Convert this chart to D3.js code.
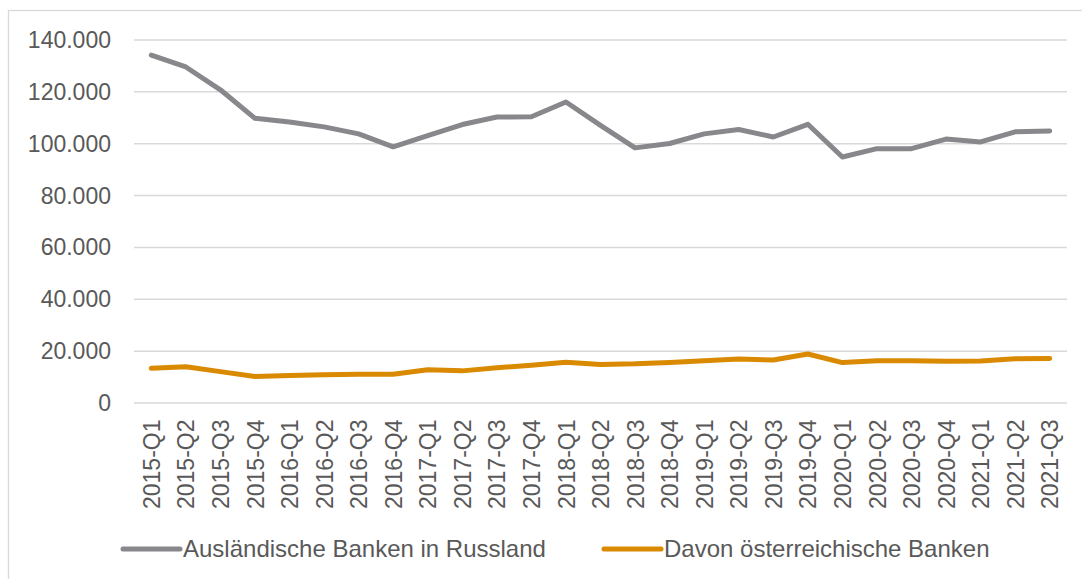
<!DOCTYPE html>
<html>
<head>
<meta charset="utf-8">
<script src="https://cdn.jsdelivr.net/npm/d3@7"></script>
<style>
  body { margin: 0; background: #fff; }
  svg text { font-family: "Liberation Sans", Arial, sans-serif; fill: #595959; }
</style>
</head>
<body>
<div class="chart"></div>
<script>
var quarters = ["2015-Q1","2015-Q2","2015-Q3","2015-Q4",
                "2016-Q1","2016-Q2","2016-Q3","2016-Q4",
                "2017-Q1","2017-Q2","2017-Q3","2017-Q4",
                "2018-Q1","2018-Q2","2018-Q3","2018-Q4",
                "2019-Q1","2019-Q2","2019-Q3","2019-Q4",
                "2020-Q1","2020-Q2","2020-Q3","2020-Q4",
                "2021-Q1","2021-Q2","2021-Q3"];

var auslaendische = [134000, 129400, 120600, 109600,
                     108200, 106300, 103600, 98600,
                     102900, 107200, 110100, 110200,
                     115900, 106900, 98200, 99900,
                     103600, 105300, 102400, 107300,
                     94700, 97900, 97900, 101600,
                     100500, 104400, 104700];

var oesterreichische = [13200, 13800, 11900, 10000,
                        10400, 10700, 10900, 10900,
                        12600, 12200, 13400, 14400,
                        15500, 14700, 14900, 15400,
                        16100, 16800, 16400, 18700,
                        15400, 16100, 16100, 15900,
                        16000, 16900, 17000];

var yTicks = [0, 20000, 40000, 60000, 80000, 100000, 120000, 140000];

var seriesNames = ["Ausländische Banken in Russland", "Davon österreichische Banken"];
var seriesColors = ["#88878c", "#d98a00"];

var width = 1082, height = 579;

var svg = d3.select(".chart").append("svg")
            .attr("width", width)
            .attr("height", height);

// outer frame
svg.append("rect")
   .attr("x", 8.5)
   .attr("y", 10.5)
   .attr("width", 1090)
   .attr("height", 600)
   .style("fill", "none")
   .style("stroke", "#d9d9d9")
   .style("stroke-width", 1.3);

var x = d3.scalePoint()
          .domain(quarters)
          .range([134, 1067])
          .padding(0.5);

var y = d3.scaleLinear()
          .domain([0, 140000])
          .range([402.5, 39.5]);

var fmt = d3.formatLocale({decimal: ",", thousands: ".", grouping: [3], currency: ["", "€"]}).format(",d");

// gridlines + y labels
var yAxis = d3.axisLeft(y)
              .tickValues(yTicks)
              .tickFormat(fmt)
              .tickSize(0);

var gGrid = svg.append("g")
               .attr("transform", "translate(134,0)")
               .call(yAxis);
gGrid.select(".domain").remove();
gGrid.selectAll(".tick line")
     .attr("x1", 0)
     .attr("x2", 933)
     .style("stroke", "#d9d9d9")
     .style("stroke-width", 1.5);
gGrid.selectAll(".tick text")
     .attr("x", -23)
     .attr("dy", "0.35em")
     .style("font-size", "23px")
     .style("fill", "#595959");

// x labels
var xAxis = d3.axisBottom(x).tickSize(0);
var gx = svg.append("g")
            .attr("transform", "translate(0,402.5)")
            .call(xAxis);
gx.select(".domain").remove();
gx.selectAll(".tick text")
  .attr("transform", "rotate(-90)")
  .attr("x", -17)
  .attr("y", 0)
  .attr("dy", "0.35em")
  .style("text-anchor", "end")
  .style("font-size", "23px")
  .style("fill", "#595959");

// lines
var line = d3.line()
             .x(function(d, i){ return x(quarters[i]); })
             .y(function(d){ return y(d); });

[auslaendische, oesterreichische].forEach(function(values, k){
  svg.append("path")
     .datum(values)
     .attr("d", line)
     .style("fill", "none")
     .style("stroke", seriesColors[k])
     .style("stroke-width", 5)
     .style("stroke-linejoin", "round")
     .style("stroke-linecap", "round");
});

// legend
var legendX = [123, 604];
seriesNames.forEach(function(name, k){
  svg.append("line")
     .attr("x1", legendX[k])
     .attr("x2", legendX[k] + 57)
     .attr("y1", 549)
     .attr("y2", 549)
     .style("stroke", seriesColors[k])
     .style("stroke-width", 5)
     .style("stroke-linecap", "round");

  svg.append("text")
     .attr("x", legendX[k] + 60)
     .attr("y", 549)
     .attr("dy", "0.35em")
     .style("font-size", "24px")
     .text(name);
});
</script>
</body>
</html>
